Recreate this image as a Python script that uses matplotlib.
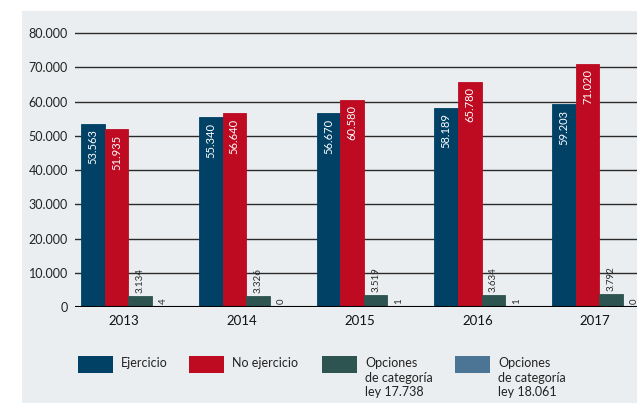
import numpy as np
import matplotlib
matplotlib.use('Agg')
import matplotlib.pyplot as plt
from matplotlib.patches import Rectangle

plt.rcParams['font.family'] = ['Lato', 'DejaVu Sans']

# 데이터
years = ['2013', '2014', '2015', '2016', '2017']
ejercicio = [53563, 55340, 56670, 58189, 59203]
noEjercicio = [51935, 56640, 60580, 65780, 71020]
opc17738 = [3134, 3326, 3519, 3634, 3792]
opc18061 = [4, 0, 1, 1, 0]
seriesNames = ['Ejercicio', 'No ejercicio', 'Opciones\nde categoría\nley 17.738',
               'Opciones\nde categoría\nley 18.061']
colors = ['#014166', '#bf0b22', '#2e5451', '#4b7495']
yTicks = [0, 10000, 20000, 30000, 40000, 50000, 60000, 70000, 80000]

def fmt(v):
    return '{:,}'.format(v).replace(',', '.')

fig = plt.figure(figsize=(6.37, 4.03), dpi=100)
fig.patch.set_facecolor('white')
# 회색 배경 패널
fig.patches.append(Rectangle((22 / 637, 0), 1, (403 - 11) / 403, transform=fig.transFigure,
                             facecolor='#ebeef0', edgecolor='none', zorder=-1))

ax = fig.add_axes([75 / 637, 96 / 403, 1 - 75 / 637, (373.4 - 96) / 403])
ax.set_facecolor('none')

x = np.arange(len(years))
w = 0.2
allSeries = [ejercicio, noEjercicio, opc17738, opc18061]
for k, (vals, c) in enumerate(zip(allSeries, colors)):
    pos = x + (k - 1.5) * w
    ax.bar(pos, vals, width=w, color=c, edgecolor=c, linewidth=0.6, zorder=3)
    for p, v in zip(pos, vals):
        if k < 2:
            ax.annotate(fmt(v), (p, v), xytext=(0, -4), textcoords='offset points',
                        rotation=90, ha='center', va='top', color='white', fontsize=8, zorder=4)
        else:
            ax.annotate(fmt(v), (p, v), xytext=(0, 2), textcoords='offset points',
                        rotation=90, ha='center', va='bottom', color='#2a2a2a', fontsize=7, zorder=4)

ax.set_xlim(-0.453, 4.32)
ax.set_ylim(0, 81000)
ax.set_yticks(yTicks)
ax.set_yticklabels([fmt(t) for t in yTicks], fontsize=9, color='#222222')
ax.set_xticks(x - 0.035)
ax.set_xticklabels(years, fontsize=9.5, color='#111111')
ax.tick_params(axis='both', length=0)
ax.tick_params(axis='y', pad=5)
ax.tick_params(axis='x', pad=6)
for s in ax.spines.values():
    s.set_visible(False)
for t in yTicks[1:]:
    ax.axhline(t, color='#2a2a2a', linewidth=1.0, zorder=1)
ax.axhline(0, color='black', linewidth=1.5, zorder=5)

# 범례
legX = [78, 189, 322, 455]
for lx, c, name in zip(legX, colors, seriesNames):
    fig.patches.append(Rectangle((lx / 637, (403 - 373) / 403), 35 / 637, 17 / 403,
                                 transform=fig.transFigure, facecolor=c, edgecolor='none', zorder=1))
    fig.text((lx + 43) / 637, (403 - 357) / 403, name, fontsize=9, color='#222222',
             ha='left', va='top', linespacing=1.25)

fig.savefig('out.png', dpi=100)
